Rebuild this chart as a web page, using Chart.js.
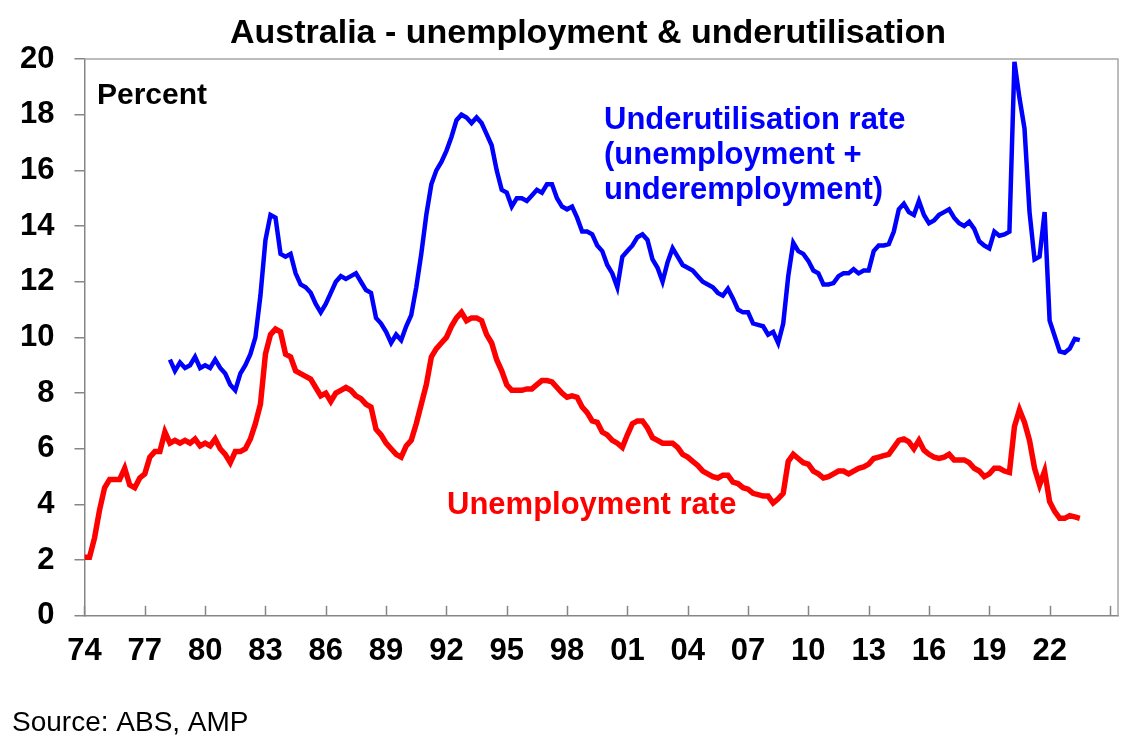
<!DOCTYPE html>
<html>
<head>
<meta charset="utf-8">
<script src="https://cdn.jsdelivr.net/npm/chart.js@4.4.0/dist/chart.umd.min.js"></script>
<style>
  html, body { margin: 0; padding: 0; background: #fff; }
</style>
</head>
<body>
<canvas id="unemploymentChart" width="1142" height="754"></canvas>
<script>
// quarterly readings, first value = Q1 1974
var startYear = 1974;

var unemploymentRate = [
    2.1, 2.1, 2.8, 3.8,      // 1974
    4.6, 4.9, 4.9, 4.9,      // 1975
    5.3, 4.7, 4.6, 4.95,     // 1976
    5.1, 5.7, 5.9, 5.9,      // 1977
    6.6, 6.2, 6.3, 6.2,      // 1978
    6.3, 6.2, 6.35, 6.1,     // 1979
    6.2, 6.1, 6.35, 6.0,     // 1980
    5.8, 5.5, 5.9, 5.9,      // 1981
    6.0, 6.35, 6.9, 7.6,     // 1982
    9.4, 10.1, 10.3, 10.2,   // 1983
    9.4, 9.3, 8.8, 8.7,      // 1984
    8.6, 8.5, 8.2, 7.9,      // 1985
    8.0, 7.7, 8.0, 8.1,      // 1986
    8.2, 8.1, 7.9, 7.8,      // 1987
    7.6, 7.5, 6.7, 6.5,      // 1988
    6.2, 6.0, 5.8, 5.7,      // 1989
    6.1, 6.3, 6.9, 7.6,      // 1990
    8.3, 9.3, 9.6, 9.8,      // 1991
    10.0, 10.4, 10.7, 10.9,  // 1992
    10.6, 10.7, 10.7, 10.6,  // 1993
    10.1, 9.8, 9.2, 8.8,     // 1994
    8.3, 8.1, 8.1, 8.1,      // 1995
    8.15, 8.15, 8.3, 8.45,   // 1996
    8.45, 8.4, 8.2, 8.0,     // 1997
    7.85, 7.9, 7.85, 7.5,    // 1998
    7.3, 7.0, 6.95, 6.6,     // 1999
    6.5, 6.3, 6.2, 6.05,     // 2000
    6.5, 6.9, 7.0, 7.0,      // 2001
    6.75, 6.4, 6.3, 6.2,     // 2002
    6.2, 6.2, 6.05, 5.8,     // 2003
    5.7, 5.55, 5.4, 5.2,     // 2004
    5.1, 5.0, 4.95, 5.05,    // 2005
    5.05, 4.8, 4.75, 4.6,    // 2006
    4.55, 4.4, 4.35, 4.3,    // 2007
    4.3, 4.05, 4.2, 4.4,     // 2008
    5.55, 5.8, 5.65, 5.5,    // 2009
    5.45, 5.2, 5.1, 4.95,    // 2010
    5.0, 5.1, 5.2, 5.2,      // 2011
    5.1, 5.2, 5.3, 5.35,     // 2012
    5.45, 5.65, 5.7, 5.75,   // 2013
    5.8, 6.05, 6.3, 6.35,    // 2014
    6.25, 6.0, 6.3, 5.95,    // 2015
    5.8, 5.7, 5.65, 5.7,     // 2016
    5.8, 5.6, 5.6, 5.6,      // 2017
    5.5, 5.3, 5.2, 5.0,      // 2018
    5.1, 5.3, 5.3, 5.2,      // 2019
    5.15, 6.8, 7.4, 6.95,    // 2020
    6.3, 5.3, 4.7, 5.2,      // 2021
    4.1, 3.75, 3.5, 3.5,     // 2022
    3.6, 3.55, 3.5           // 2023
];

var underutilisationRate = [
    null, null, null, null,  // 1974
    null, null, null, null,  // 1975
    null, null, null, null,  // 1976
    null, null, null, null,  // 1977
    null, 9.2, 8.8, 9.1,     // 1978
    8.9, 9.0, 9.3, 8.9,      // 1979
    9.0, 8.9, 9.2, 8.9,      // 1980
    8.7, 8.3, 8.1, 8.7,      // 1981
    9.0, 9.4, 10.0, 11.5,    // 1982
    13.5, 14.4, 14.3, 13.0,  // 1983
    12.9, 13.0, 12.3, 11.9,  // 1984
    11.8, 11.6, 11.2, 10.9,  // 1985
    11.2, 11.6, 12.0, 12.2,  // 1986
    12.1, 12.2, 12.3, 12.0,  // 1987
    11.7, 11.6, 10.7, 10.5,  // 1988
    10.2, 9.8, 10.1, 9.9,    // 1989
    10.4, 10.8, 11.8, 13.0,  // 1990
    14.4, 15.5, 16.0, 16.3,  // 1991
    16.7, 17.2, 17.8, 18.0,  // 1992
    17.9, 17.7, 17.9, 17.7,  // 1993
    17.3, 16.9, 16.0, 15.3,  // 1994
    15.2, 14.7, 15.0, 15.0,  // 1995
    14.9, 15.1, 15.3, 15.2,  // 1996
    15.5, 15.5, 15.0, 14.7,  // 1997
    14.6, 14.7, 14.3, 13.8,  // 1998
    13.8, 13.7, 13.3, 13.1,  // 1999
    12.6, 12.3, 11.8, 12.9,  // 2000
    13.1, 13.3, 13.6, 13.7,  // 2001
    13.5, 12.8, 12.5, 12.0,  // 2002
    12.7, 13.2, 12.9, 12.6,  // 2003
    12.5, 12.4, 12.2, 12.0,  // 2004
    11.9, 11.8, 11.6, 11.5,  // 2005
    11.75, 11.4, 11.0, 10.9, // 2006
    10.9, 10.5, 10.45, 10.4, // 2007
    10.1, 10.2, 9.8, 10.5,   // 2008
    12.2, 13.4, 13.1, 13.0,  // 2009
    12.75, 12.4, 12.3, 11.9, // 2010
    11.9, 11.95, 12.2, 12.3, // 2011
    12.3, 12.45, 12.3, 12.4, // 2012
    12.4, 13.1, 13.3, 13.3,  // 2013
    13.35, 13.8, 14.6, 14.8, // 2014
    14.5, 14.4, 14.9, 14.4,  // 2015
    14.1, 14.2, 14.4, 14.5,  // 2016
    14.6, 14.3, 14.1, 14.0,  // 2017
    14.15, 13.9, 13.45, 13.3,// 2018
    13.2, 13.8, 13.65, 13.7, // 2019
    13.8, 19.9, 18.6, 17.5,  // 2020
    14.5, 12.8, 12.9, 14.5,  // 2021
    10.6, 10.05, 9.5, 9.45,  // 2022
    9.6, 9.95, 9.9           // 2023
];

var xTickYears = [1974, 1977, 1980, 1983, 1986, 1989, 1992, 1995, 1998, 2001,
                  2004, 2007, 2010, 2013, 2016, 2019, 2022, 2025];

var fontFamily = 'Arial, "Liberation Sans", sans-serif';

function toPoints(values) {
    return values.map(function(v, i) { return { x: startYear + i / 4, y: v }; });
}

// title, notes, inner x ticks and the rest of the plot frame
var chartDecor = {
    id: 'chartDecor',
    afterDraw: function(chart) {
        var ctx = chart.ctx;
        var area = chart.chartArea;
        var xScale = chart.scales.x;
        ctx.save();

        ctx.strokeStyle = '#a6a6a6';
        ctx.lineWidth = 1.5;
        ctx.beginPath();
        ctx.moveTo(area.left, area.top);
        ctx.lineTo(area.right, area.top);
        ctx.lineTo(area.right, area.bottom);
        ctx.stroke();

        ctx.strokeStyle = '#868686';
        ctx.lineWidth = 1.5;
        xTickYears.forEach(function(yr) {
            var px = Math.round(xScale.getPixelForValue(yr)) + 0.5;
            ctx.beginPath();
            ctx.moveTo(px, area.bottom);
            ctx.lineTo(px, area.bottom - 10);
            ctx.stroke();
        });

        ctx.fillStyle = '#000';
        ctx.textAlign = 'center';
        ctx.textBaseline = 'alphabetic';
        ctx.font = 'bold 34px ' + fontFamily;
        ctx.fillText('Australia - unemployment & underutilisation', 588, 43);

        ctx.textAlign = 'left';
        ctx.font = 'bold 30px ' + fontFamily;
        ctx.fillText('Percent', 97, 104);

        ctx.fillStyle = '#0000ff';
        ctx.font = 'bold 31px ' + fontFamily;
        ctx.fillText('Underutilisation rate', 604, 129);
        ctx.fillText('(unemployment +', 604, 164);
        ctx.fillText('underemployment)', 604, 199);

        ctx.fillStyle = '#ff0000';
        ctx.fillText('Unemployment rate', 447, 514);

        ctx.fillStyle = '#000';
        ctx.font = '28px ' + fontFamily;
        ctx.fillText('Source: ABS, AMP', 12, 731);
        ctx.restore();
    }
};

var ctxUnemployment = document.getElementById('unemploymentChart').getContext('2d');
var unemploymentChart = new Chart(ctxUnemployment, {
    type: 'line',
    data: {
        datasets: [{
            label: 'Underutilisation rate',
            data: toPoints(underutilisationRate),
            borderColor: '#0000ff',
            borderWidth: 4.5,
            pointRadius: 0,
            tension: 0
        }, {
            label: 'Unemployment rate',
            data: toPoints(unemploymentRate),
            borderColor: '#ff0000',
            borderWidth: 5.5,
            pointRadius: 0,
            tension: 0
        }]
    },
    options: {
        responsive: false,
        animation: false,
        devicePixelRatio: 1,
        layout: { padding: { left: 0, top: 59, right: 24, bottom: 75 } },
        plugins: {
            legend: { display: false },
            tooltip: { enabled: false }
        },
        scales: {
            x: {
                type: 'linear',
                min: 1974,
                max: 2025.4,
                afterBuildTicks: function(axis) {
                    axis.ticks = xTickYears.map(function(v) { return { value: v }; });
                },
                ticks: {
                    autoSkip: false,
                    maxRotation: 0,
                    padding: 9,
                    color: '#000',
                    font: { family: fontFamily, size: 31, weight: 'bold' },
                    callback: function(value) {
                        return value === 2025 ? '' : String(value).slice(2);
                    }
                },
                grid: { display: false },
                border: { display: true, color: '#868686', width: 1.5 }
            },
            y: {
                min: 0,
                max: 20,
                ticks: {
                    stepSize: 2,
                    padding: 20,
                    color: '#000',
                    font: { family: fontFamily, size: 31, weight: 'bold' }
                },
                grid: { drawOnChartArea: false, tickLength: 10, color: '#868686', lineWidth: 1.5 },
                border: { color: '#868686', width: 1.5 }
            }
        }
    },
    plugins: [chartDecor]
});
</script>
</body>
</html>
